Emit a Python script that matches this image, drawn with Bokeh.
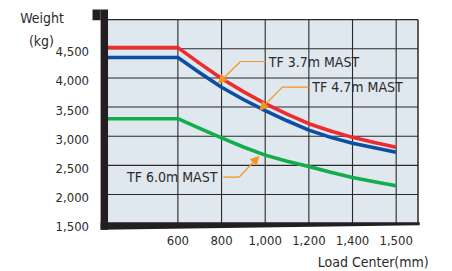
from bokeh.plotting import figure
from bokeh.embed import file_html
from bokeh.resources import INLINE
from bokeh.models import Label, Arrow, NormalHead
from bokeh.core.properties import value

# ---- data ----
load_center = [280, 600, 700, 800, 900, 1000, 1100, 1200, 1300, 1400, 1500, 1600]
tf37 = [4520, 4520, 4250, 3990, 3765, 3560, 3380, 3215, 3090, 2980, 2890, 2810]
tf47 = [4350, 4350, 4090, 3840, 3630, 3440, 3265, 3105, 2980, 2880, 2800, 2725]
tf60 = [3300, 3300, 3135, 2970, 2815, 2675, 2570, 2480, 2380, 2290, 2220, 2150]

x_ticks = [600, 800, 1000, 1200, 1400, 1600]
x_tick_labels = ["600", "800", "1,000", "1,200", "1,400", "1,500"]
y_ticks = [1500, 2000, 2500, 3000, 3500, 4000, 4500]
y_tick_labels = ["1,500", "2,000", "2,500", "3,000", "3,500", "4,000", "4,500"]
y_top = 5000
x_left, x_right = 280, 1700

FONT = "DejaVu Sans Condensed, Liberation Sans Narrow, sans-serif"
TXT = "#2b2b2b"

p = figure(width=452, height=271, x_range=(-212.6, 1858), y_range=(678, 5329),
           output_backend="svg", toolbar_location=None, title=None,
           x_axis_location=None, y_axis_location=None,
           min_border=0, min_border_left=0, min_border_right=0,
           min_border_top=0, min_border_bottom=0)
p.outline_line_color = None
p.xgrid.visible = False
p.ygrid.visible = False
p.background_fill_color = "white"
p.border_fill_color = "white"

# plot background
p.quad(left=[x_left], right=[x_right], bottom=[y_ticks[0]], top=[y_top],
       fill_color="#DFE7EF", line_color=None)

# grid lines
gx = x_ticks
p.segment(x0=gx, x1=gx, y0=[y_ticks[0]] * len(gx), y1=[y_top] * len(gx),
          line_color="#2a2a2a", line_width=1.1)
gy = y_ticks[1:] + [y_top]
p.segment(x0=[x_left] * len(gy), x1=[x_right] * len(gy), y0=gy, y1=gy,
          line_color="#2a2a2a", line_width=1.1)
p.segment(x0=[x_right], x1=[x_right], y0=[y_ticks[0]], y1=[y_top],
          line_color="#2a2a2a", line_width=1.5)

# curves
p.line(load_center, tf60, line_color="#12AE4B", line_width=3.6, line_join="round")
p.line(load_center, tf47, line_color="#0B4EA2", line_width=3.6, line_join="round")
p.line(load_center, tf37, line_color="#EE2B2E", line_width=3.6, line_join="round")

# heavy black frame (left bar with flag, bottom bar)
p.quad(left=[246], right=[x_left], bottom=[1394], top=[5175], fill_color="#231F20", line_color=None)
p.quad(left=[209], right=[246], bottom=[4990], top=[5175], fill_color="#231F20", line_color=None)
p.patch(x=[246, 1708, 1708, 246], y=[1522, 1522, 1471, 1394], fill_color="#231F20", line_color=None)

# tick labels
p.text(x=[x_left] * len(y_ticks), y=y_ticks, text=y_tick_labels, x_offset=-19, y_offset=3,
       text_align="right", text_baseline="middle", text_font=value(FONT),
       text_font_size="13px", text_color=TXT)
p.text(x=x_ticks, y=[y_ticks[0]] * len(x_ticks), text=x_tick_labels, y_offset=17,
       text_align="center", text_baseline="middle", text_font=value(FONT),
       text_font_size="13px", text_color=TXT)

lab_kw = dict(text_font=FONT, text_font_size="14px", text_color=TXT)
p.add_layout(Label(x=-22, y=5037, text="Weight", text_align="center", text_baseline="middle", **lab_kw))
p.add_layout(Label(x=-25, y=4642, text="(kg)", text_align="center", text_baseline="middle", **lab_kw))
p.add_layout(Label(x=1749, y=836, text="Load Center(mm)", text_align="right", text_baseline="middle", **lab_kw))

# annotations with leader arrows
ORANGE = "#F7941D"
ann = [
    ("TF 3.7m MAST", 1016, 4282, "left", 1002, 887, 786, 3913),
    ("TF 4.7m MAST", 1216, 3841, "left", 1199, 1078, 976, 3450),
    ("TF 6.0m MAST", 781, 2296, "right", 808, 880, 971, 2652),
]
for text, tx, ty, align, hx0, hx1, ax_, ay in ann:
    p.segment(x0=[hx0], x1=[hx1], y0=[ty], y1=[ty], line_color=ORANGE, line_width=1.2)
    p.add_layout(Arrow(x_start=hx1, y_start=ty, x_end=ax_, y_end=ay,
                       line_color=ORANGE, line_width=1.2,
                       end=NormalHead(size=8, fill_color=ORANGE, line_color=ORANGE)))
    p.add_layout(Label(x=tx, y=ty, text=text, text_align=align, text_baseline="middle", **lab_kw))

open("out.html", "w").write(file_html(p, INLINE))
